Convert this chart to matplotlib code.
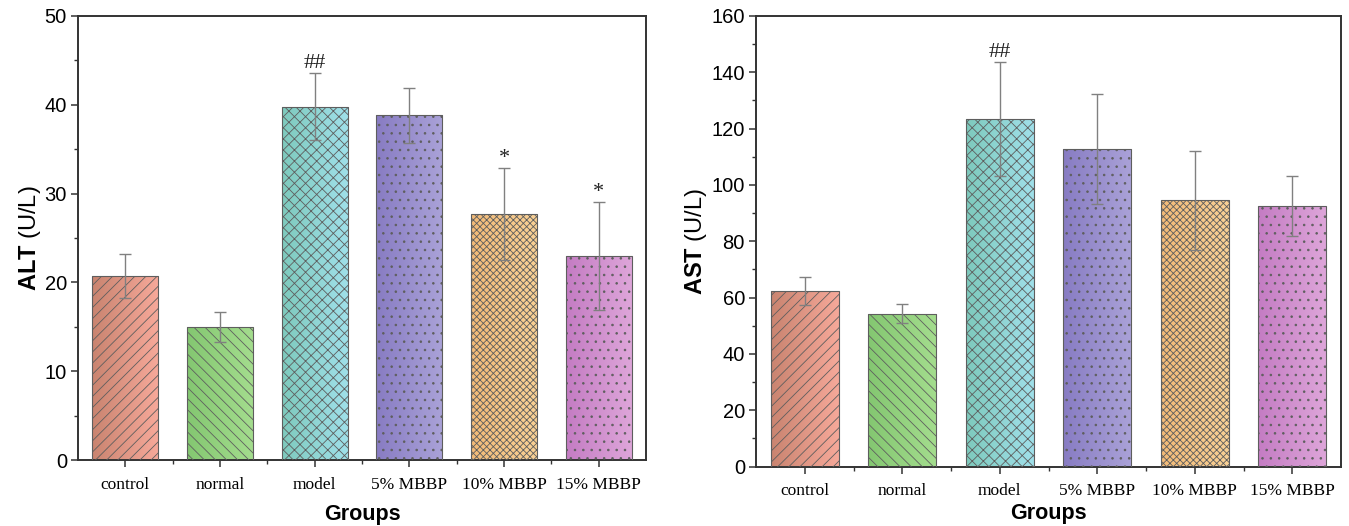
#!/usr/bin/env python3
"""ALT / AST serum levels per group, gradient hatched bars with SD error bars."""

import matplotlib
matplotlib.use("Agg")
import matplotlib.pyplot as plt
import numpy as np
from matplotlib.colors import to_rgb
from matplotlib.ticker import FixedLocator, MultipleLocator

groups = ["control", "normal", "model", "5% MBBP", "10% MBBP", "15% MBBP"]

alt_mean = [20.7, 15.0, 39.8, 38.8, 27.7, 23.0]
alt_err = [2.5, 1.7, 3.8, 3.1, 5.2, 6.1]
alt_marks = ["", "", "##", "", "*", "*"]

ast_mean = [62.3, 54.3, 123.4, 112.8, 94.6, 92.5]
ast_err = [5.0, 3.3, 20.3, 19.6, 17.6, 10.7]
ast_marks = ["", "", "##", "", "", ""]

# left (darker) -> right (lighter) gradient colours for each bar
grad_left = ["#c98470", "#84c771", "#7ecabd", "#887cc3", "#f3bb78", "#c47cc3"]
grad_right = ["#f7a99a", "#a4dd8e", "#a0e0ea", "#aaa2d8", "#f9d196", "#dea6da"]
hatches = ["///", "\\\\\\", "xxx", "..", "xxxxx", ".."]

plt.rcParams["hatch.linewidth"] = 0.6
plt.rcParams["mathtext.fontset"] = "custom"
plt.rcParams["mathtext.rm"] = "Liberation Sans"
plt.rcParams["mathtext.bf"] = "Liberation Sans:bold"

SANS = "Liberation Sans"
SERIF = "Liberation Serif"
W, H = 1349, 526


def gradient_bars(ax, means, errs, marks, ymax, ylabel, major, minor, ypad, xpad):
    xs = np.arange(len(groups))
    bars = ax.bar(xs, means, width=0.7, facecolor="none", edgecolor="#5e5e5e",
                  linewidth=0.8, zorder=3)
    for i, b in enumerate(bars):
        b.set_hatch(hatches[i])
        c0 = np.array(to_rgb(grad_left[i]))
        c1 = np.array(to_rgb(grad_right[i]))
        t = np.linspace(0, 1, 64)[None, :, None]
        img = c0 + (c1 - c0) * t
        x0 = b.get_x()
        im = ax.imshow(img, extent=(x0, x0 + b.get_width(), 0, b.get_height()),
                       aspect="auto", zorder=2, interpolation="bilinear")
        im.set_clip_path(b)
    ax.errorbar(xs, means, yerr=errs, fmt="none", ecolor="#808080",
                elinewidth=1.0, capsize=4.5, capthick=1.0, zorder=4)
    for x, m, e, s in zip(xs, means, errs, marks):
        if s:
            ax.annotate(s, (x, m + e), xytext=(0, 0), textcoords="offset points",
                        ha="center", va="bottom", fontsize=16, family=SERIF,
                        color="#222222")

    ax.set_xlim(-0.5, len(groups) - 0.5)
    ax.set_ylim(0, ymax)
    ax.set_aspect("auto")
    ax.set_xticks(xs)
    ax.set_xticklabels(groups, fontsize=12.5, family=SERIF)
    ax.xaxis.set_minor_locator(FixedLocator(xs[:-1] + 0.5))
    ax.yaxis.set_major_locator(MultipleLocator(major))
    ax.yaxis.set_minor_locator(MultipleLocator(minor))
    for lab in ax.get_yticklabels():
        lab.set_family(SANS)
        lab.set_fontsize(14.5)
    ax.tick_params(axis="both", which="major", direction="out", length=5,
                   width=1.1, color="#333333")
    ax.tick_params(axis="both", which="minor", direction="out", length=3,
                   width=1.0, color="#333333")
    ax.tick_params(axis="x", which="major", pad=7)
    ax.tick_params(axis="y", which="major", pad=3)
    for sp in ax.spines.values():
        sp.set_color("#333333")
        sp.set_linewidth(1.4)
    ax.set_xlabel("Groups", fontsize=15.5, fontweight="bold", family=SANS, labelpad=xpad)
    ax.set_ylabel(ylabel, fontsize=17, family=SANS, labelpad=ypad)


fig = plt.figure(figsize=(W / 100, H / 100), dpi=100)
ax1 = fig.add_axes([78 / W, 1 - 460 / H, (646 - 78) / W, (460 - 16) / H])
ax2 = fig.add_axes([756 / W, 1 - 466.5 / H, (1341 - 756) / W, (466.5 - 16) / H])

gradient_bars(ax1, alt_mean, alt_err, alt_marks, 50, r"$\mathbf{ALT}$ (U/L)", 10, 5, 1, 8)
gradient_bars(ax2, ast_mean, ast_err, ast_marks, 160, r"$\mathbf{AST}$ (U/L)", 20, 10, 2, 3)

fig.savefig("out.png", dpi=100)
